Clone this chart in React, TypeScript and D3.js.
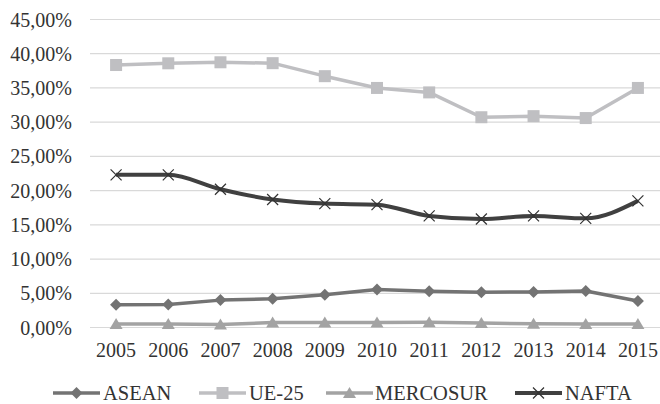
import React from "react";
import * as d3 from "d3";

const years = ["2005","2006","2007","2008","2009","2010","2011","2012","2013","2014","2015"];
const asean = [3.33, 3.35, 4.0, 4.2, 4.78, 5.55, 5.3, 5.14, 5.2, 5.33, 3.88];
const ue25 = [38.35, 38.6, 38.75, 38.62, 36.72, 35.0, 34.35, 30.72, 30.88, 30.6, 35.0];
const mercosur = [0.5, 0.5, 0.45, 0.72, 0.72, 0.72, 0.76, 0.65, 0.55, 0.5, 0.5];
const nafta = [22.3, 22.3, 20.2, 18.7, 18.1, 17.95, 16.3, 15.85, 16.3, 15.95, 18.5];
const yTicks = [0, 5, 10, 15, 20, 25, 30, 35, 40, 45];

const series = [
  { name: "ASEAN", values: asean, color: "#737373", width: 3.5, marker: "diamond", curve: false },
  { name: "UE-25", values: ue25, color: "#bfbfc2", width: 3.5, marker: "square", curve: false },
  { name: "MERCOSUR", values: mercosur, color: "#a3a3a3", width: 3.5, marker: "triangle", curve: false },
  { name: "NAFTA", values: nafta, color: "#404040", width: 4, marker: "x", curve: true },
];

const textStyle = { fontFamily: '"Liberation Serif"' };

function Marker({ type, x, y, color }: { type: string; x: number; y: number; color: string }) {
  if (type === "diamond") {
    const s = 6;
    return <path d={`M${x},${y - s}L${x + s},${y}L${x},${y + s}L${x - s},${y}Z`} fill={color} />;
  }
  if (type === "square") {
    return <rect x={x - 6} y={y - 6} width={12} height={12} fill={color} />;
  }
  if (type === "triangle") {
    return <path d={`M${x},${y - 6}L${x + 6.5},${y + 5}L${x - 6.5},${y + 5}Z`} fill={color} />;
  }
  const s = 5.5;
  return (
    <path d={`M${x - s},${y - s}L${x + s},${y + s}M${x - s},${y + s}L${x + s},${y - s}`} stroke="#333" strokeWidth={1.2} fill="none" />
  );
}

export default function App() {
  const W = 660, H = 404;
  const x = d3.scalePoint<string>().domain(years).range([90, 664]).padding(0.5);
  const y = d3.scaleLinear().domain([0, 45]).range([327.5, 19.5]);
  const fmt = (v: number) => v.toFixed(2).replace(".", ",") + "%";

  const legendItems = [
    { lx: 53, tx: 103 },
    { lx: 199, tx: 249 },
    { lx: 326, tx: 375 },
    { lx: 515, tx: 565 },
  ];

  return (
    <svg width={W} height={H} style={{ position: "absolute", left: 0, top: 0, background: "#fff" }}>
      {yTicks.map((t) => (
        <g key={t}>
          <line x1={90} x2={664} y1={y(t)} y2={y(t)} stroke="#d9d9d9" strokeWidth={1.2} />
          <text x={72} y={y(t)} dy="0.35em" textAnchor="end" style={textStyle} fontSize={20} fill="#333">
            {fmt(t)}
          </text>
        </g>
      ))}
      {years.map((yr) => (
        <text key={yr} x={x(yr)} y={357} textAnchor="middle" style={textStyle} fontSize={20} fill="#333">
          {yr}
        </text>
      ))}
      {series.map((s) => {
        const line = d3
          .line<number>()
          .x((_, i) => x(years[i]) as number)
          .y((v) => y(v))
          .curve(s.curve ? d3.curveMonotoneX : d3.curveLinear);
        return (
          <g key={s.name}>
            <path d={line(s.values) || ""} fill="none" stroke={s.color} strokeWidth={s.width} strokeLinejoin="round" />
            {s.values.map((v, i) => (
              <Marker key={i} type={s.marker} x={x(years[i]) as number} y={y(v)} color={s.color} />
            ))}
          </g>
        );
      })}
      {series.map((s, i) => {
        const it = legendItems[i];
        const cy = 393;
        return (
          <g key={s.name}>
            <line x1={it.lx} x2={it.lx + 47} y1={cy} y2={cy} stroke={s.color} strokeWidth={s.width} />
            <Marker type={s.marker} x={it.lx + 23.5} y={cy} color={s.color} />
            <text x={it.tx} y={400} style={textStyle} fontSize={20.5} fill="#333">
              {s.name}
            </text>
          </g>
        );
      })}
    </svg>
  );
}
